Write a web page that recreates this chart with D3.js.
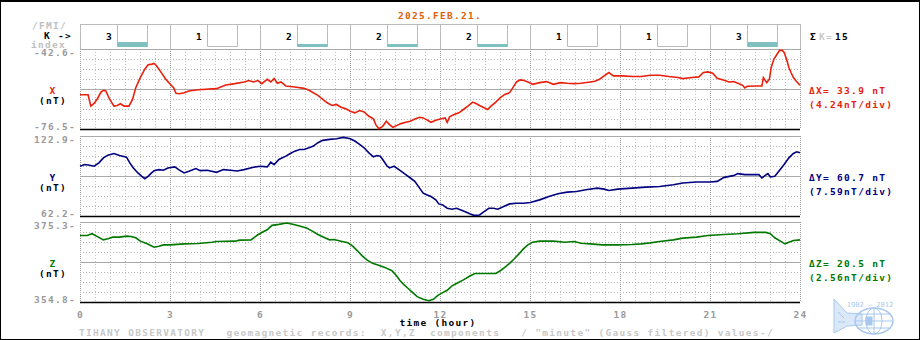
<!DOCTYPE html>
<html><head><meta charset="utf-8">
<script src="https://cdn.jsdelivr.net/npm/d3@7"></script>
<style>
body{margin:0;background:#fff}
svg{display:block;font-family:"DejaVu Sans Mono",monospace;font-weight:bold}
svg text{letter-spacing:1.3px}
</style>
</head><body>
<svg id="c" width="920" height="340"></svg>
<script>
// ---- data ----
const dateLabel = "2025.FEB.21.";
const kIndex = [3,1,2,2,2,1,1,3];
const hourTicks = [0,3,6,9,12,15,18,21,24];

const hoursX = [0,0.27,0.36,0.47,0.58,0.70,0.78,0.86,0.98,1.13,1.24,1.35,1.47,1.63,1.75,1.86,2.01,2.16,2.27,2.40,2.47,2.55,2.67,2.86,3.01,3.12,3.20,3.32,3.47,3.63,3.93,4.55,4.86,5.16,5.47,5.63,5.78,5.93,6.06,6.24,6.36,6.47,6.58,6.70,6.86,7.16,7.47,7.63,7.93,8.24,8.40,8.55,8.70,8.86,9.01,9.16,9.32,9.47,9.63,9.78,9.86,9.96,10.09,10.21,10.32,10.43,10.55,10.70,10.86,11.01,11.16,11.32,11.44,11.55,11.70,11.86,12.01,12.17,12.24,12.32,12.47,12.63,12.78,12.93,13.09,13.20,13.32,13.47,13.59,13.70,13.86,14.01,14.16,14.32,14.43,14.55,14.67,14.78,14.93,15.09,15.32,15.55,15.78,16.01,16.24,16.47,16.70,17.01,17.16,17.32,17.47,17.63,17.78,18.09,18.40,18.70,19.01,19.32,19.63,19.94,20.09,20.40,20.63,20.78,20.93,21.09,21.24,21.47,21.63,21.78,21.93,22.09,22.16,22.24,22.55,22.73,22.78,22.89,22.98,23.04,23.13,23.24,23.32,23.41,23.47,23.55,23.63,23.70,23.78,23.87,24];
const valuesX = [-61.97,-61.97,-66.81,-65.68,-63.68,-60.83,-60.12,-60.41,-63.68,-66.81,-66.53,-65.82,-66.81,-66.81,-63.97,-58.98,-54.71,-51.15,-49.29,-49.01,-48.72,-49.72,-51.86,-55.42,-57.56,-58.98,-61.40,-61.54,-61.12,-60.41,-59.84,-59.41,-57.84,-57.27,-56.56,-55.99,-56.56,-55.99,-57.27,-55.42,-56.56,-55.13,-57.13,-56.56,-58.27,-58.70,-59.27,-60.12,-62.26,-65.39,-66.53,-66.10,-67.24,-67.95,-68.95,-69.66,-68.67,-69.24,-71.09,-72.23,-74.65,-76.36,-75.36,-73.22,-74.65,-75.79,-75.08,-74.22,-73.65,-73.22,-72.23,-71.52,-71.80,-72.51,-73.65,-72.80,-72.23,-71.80,-73.65,-71.37,-70.38,-69.66,-68.24,-66.81,-65.11,-65.68,-66.53,-67.53,-68.24,-66.81,-65.11,-63.25,-61.83,-61.12,-58.98,-56.56,-55.70,-55.85,-56.56,-57.56,-56.84,-56.42,-57.56,-56.84,-57.13,-57.27,-57.13,-56.56,-56.27,-55.42,-54.00,-52.57,-54.00,-54.00,-54.28,-54.28,-53.71,-53.71,-54.28,-54.71,-55.13,-54.71,-54.42,-52.57,-52.29,-52.86,-54.99,-55.85,-56.56,-56.42,-57.13,-57.98,-59.12,-58.41,-58.27,-58.27,-54.71,-56.84,-55.42,-50.43,-46.87,-44.74,-43.17,-43.17,-44.02,-46.87,-50.43,-52.57,-54.71,-56.13,-57.98];

const hoursY = [0,0.16,0.32,0.47,0.63,0.78,0.93,1.13,1.32,1.55,1.66,1.78,1.93,2.06,2.16,2.27,2.36,2.47,2.63,2.78,2.93,3.16,3.29,3.47,3.63,3.86,4.01,4.24,4.55,4.78,5.01,5.24,5.47,5.78,6.01,6.24,6.36,6.47,6.63,6.86,7.01,7.16,7.32,7.47,7.63,7.78,7.93,8.09,8.32,8.55,8.78,9.01,9.16,9.32,9.47,9.63,9.78,9.90,10.01,10.09,10.24,10.32,10.47,10.63,10.86,11.01,11.16,11.32,11.44,11.55,11.70,11.86,11.96,12.09,12.24,12.40,12.55,12.70,12.86,13.01,13.13,13.32,13.47,13.63,13.78,13.93,14.16,14.32,14.55,14.78,15.01,15.32,15.63,15.93,16.24,16.55,16.86,17.24,17.47,17.63,17.93,18.40,18.86,19.32,19.78,20.09,20.55,21.01,21.24,21.47,21.78,21.93,22.16,22.40,22.63,22.73,22.83,22.93,23.01,23.16,23.32,23.47,23.63,23.78,23.89,24];
const valuesY = [99.95,101.22,100.71,99.95,102.50,106.32,108.36,109.64,108.11,106.83,102.50,98.67,94.85,92.30,90.51,92.30,94.34,96.63,97.40,96.89,98.67,99.44,97.40,94.85,96.12,98.16,96.63,96.89,95.36,97.40,96.89,96.38,97.40,99.18,99.95,99.44,103.01,101.22,105.05,107.60,109.64,111.42,112.70,112.70,113.97,115.25,117.80,119.58,120.35,120.86,121.88,120.86,119.07,116.52,113.97,110.15,107.09,108.11,107.60,105.05,99.95,98.67,99.95,97.40,93.57,91.02,88.47,83.37,79.54,78.27,76.99,74.44,71.38,70.62,68.07,67.30,68.07,66.79,65.26,63.73,62.71,62.97,65.52,68.07,68.07,67.30,69.85,71.38,71.89,71.89,72.40,74.44,76.99,79.03,80.31,80.82,82.09,83.37,82.60,81.58,82.60,83.37,84.13,84.64,85.92,87.19,87.96,87.96,88.47,91.53,92.81,94.34,93.57,93.57,93.57,91.02,92.81,94.34,91.79,92.30,96.89,101.22,106.32,109.64,110.91,110.15];

const hoursZ = [0,0.24,0.40,0.55,0.78,0.93,1.09,1.32,1.55,1.70,1.86,2.01,2.24,2.47,2.63,2.78,3.01,3.47,3.93,4.40,4.55,5.16,5.32,5.70,5.93,6.09,6.24,6.40,6.63,6.89,7.09,7.32,7.55,7.70,7.93,8.16,8.32,8.47,8.70,8.93,9.09,9.24,9.40,9.55,9.75,9.93,10.16,10.40,10.55,10.67,10.78,10.93,11.09,11.24,11.44,11.63,11.78,11.93,12.09,12.24,12.40,12.55,12.78,13.01,13.17,13.47,13.86,14.01,14.16,14.32,14.47,14.63,14.78,14.93,15.09,15.32,15.78,16.16,16.47,16.70,17.01,17.40,17.93,18.40,18.70,19.01,19.32,19.78,20.09,20.55,20.93,21.47,21.93,22.47,22.86,23.01,23.16,23.40,23.50,23.63,23.78,24];
const valuesZ = [371.85,371.85,372.29,371.68,370.73,370.99,371.42,371.42,371.68,371.60,371.25,370.39,369.70,368.84,369.10,369.44,369.44,369.70,369.79,370.13,370.30,370.39,370.65,370.73,372.03,372.72,373.32,374.44,374.70,375.04,374.70,374.27,373.75,373.15,372.11,371.25,370.73,370.82,370.39,369.96,369.10,367.98,366.69,365.65,364.71,364.27,363.67,362.81,361.52,360.23,359.37,358.33,357.21,356.18,355.49,355.14,355.49,356.52,357.21,357.81,358.93,359.54,360.48,361.52,362.12,362.12,362.12,362.81,363.67,364.71,365.83,367.12,368.41,369.44,370.13,370.39,370.39,370.13,370.30,369.87,369.70,369.44,369.44,369.53,369.70,369.96,370.30,370.73,371.17,371.42,371.85,372.11,372.29,372.63,372.63,372.29,371.25,370.13,369.70,370.13,370.56,370.73];

const compNames = ["X","Y","Z"];
const compTop = [-42.6, 122.9, 375.3];
const compBottom = [-76.5, 62.2, 354.8];
const compDelta = ["33.9","60.7","20.5"];
const compPerDiv = ["4.24","7.59","2.56"];

// ---- layout ----
const svg = d3.select("#c");
const W = 920, H = 340, FS = 9.5;
const x = d3.scaleLinear().domain([0,24]).range([80,800]);
const colors = ["#e8200c","#000080","#007800"];
const panelTops = [49,136,222];
const panelH = 80;
const series = [[hoursX,valuesX],[hoursY,valuesY],[hoursZ,valuesZ]];

function txt(xp, yp, s, fill, anchor){
  return svg.append("text").attr("x",xp).attr("y",yp).attr("text-anchor",anchor||"start")
    .attr("dominant-baseline","central").attr("font-size",FS).attr("fill",fill).attr("xml:space","preserve").text(s);
}

// border
svg.append("rect").attr("x",0.5).attr("y",0.5).attr("width",W-1).attr("height",H-1)
  .attr("fill","none").attr("stroke","#000").attr("stroke-width",1);
svg.append("line").attr("x1",0).attr("x2",W).attr("y1",1).attr("y2",1).attr("stroke","#000").attr("stroke-width",2);

// title
txt(440, 15, dateLabel, "#e0600c", "middle");

// K index row
const kTop = 24, kBot = 49;
const kg = svg.append("g");
kg.append("line").attr("x1",80).attr("x2",800).attr("y1",kTop+0.5).attr("y2",kTop+0.5).attr("stroke","#bbb");
hourTicks.forEach(h=>{
  kg.append("line").attr("x1",Math.round(x(h))+0.5).attr("x2",Math.round(x(h))+0.5)
    .attr("y1",kTop).attr("y2",kBot).attr("stroke","#bbb");
});
kIndex.forEach((k,i)=>{
  const s = x(i*3);
  txt(s+26, 36, String(k), "#000");
  const bx0 = s+37.5, bx1 = s+67.5;
  kg.append("path").attr("d",`M${bx0},${kTop}V46.5H${bx1}V${kTop}`).attr("fill","none").attr("stroke","#bbb");
  if(k>=2){
    const hh = k===3?5:3;
    kg.append("rect").attr("x",bx0).attr("y",47-hh).attr("width",bx1-bx0).attr("height",hh).attr("fill","#80c0c0");
  }
});
// sigma K
txt(810, 36, "Σ", "#000");
txt(819, 36, "K=", "#c8c8c8");
txt(835, 36, String(d3.sum(kIndex)), "#000");

// left header labels
txt(32, 25.5, "/FMI/", "#c0c0c0");
txt(44, 35, "K ->", "#000");
txt(31, 44, "index", "#c0c0c0");

// panels
compNames.forEach((name,i)=>{
  const top = panelTops[i], bot = top+panelH;
  const y = d3.scaleLinear().domain([compBottom[i],compTop[i]]).range([bot,top]);
  const g = svg.append("g");
  d3.range(0,24.01,0.5).forEach(h=>{
    const major = (h%3===0);
    const xx = Math.round(x(h))+0.5;
    g.append("line").attr("x1",xx).attr("x2",xx).attr("y1",top).attr("y2",bot)
      .attr("stroke",major?"#999":"#c4c4c4").attr("stroke-dasharray",major?"1,1":"1,2");
  });
  d3.range(0,9).forEach(j=>{
    const yy = Math.round(top + j*panelH/8)+0.5;
    const l = g.append("line").attr("x1",80).attr("x2",800).attr("y1",yy).attr("y2",yy);
    if(j===8) l.attr("stroke","#000").attr("stroke-width",1.5);
    else if(j===0||j===4) l.attr("stroke","#aaa").attr("stroke-width",1.2);
    else l.attr("stroke","#b4b4b4").attr("stroke-dasharray","1,2");
  });
  const [hs,vs] = series[i];
  const pts = hs.map((h,k)=>[h,vs[k]]);
  g.append("path").datum(pts)
    .attr("d",d3.line().x(d=>x(d[0])).y(d=>y(d[1])))
    .attr("fill","none").attr("stroke",colors[i]).attr("stroke-width",1.6);
  const fmt = v => v.toFixed(1)+"-";
  txt(76, top+3.5, fmt(compTop[i]), "#999", "end");
  txt(76, bot-2.5, fmt(compBottom[i]), "#999", "end");
  const mid = top+panelH/2;
  txt(53, mid+1, name, colors[i], "middle");
  txt(53, mid+11, "(nT)", "#000", "middle");
  txt(809, mid+1, "Δ"+name+"= "+compDelta[i]+" nT", colors[i]);
  txt(809, mid+15, "("+compPerDiv[i]+"nT/div)", colors[i]);
});

// x axis labels
const ax = svg.append("g").attr("transform","translate(0,308)")
  .call(d3.axisBottom(x).tickValues(hourTicks).tickSize(0).tickFormat(d3.format("d")));
ax.select(".domain").remove();
ax.selectAll("text").attr("font-family","DejaVu Sans Mono, monospace").attr("font-weight","bold")
  .attr("font-size",FS).attr("fill","#999").attr("dy","0").attr("y",6).attr("dominant-baseline","central");
txt(438, 322.5, "time (hour)", "#000", "middle");

// footer
txt(79, 332.5, 'TIHANY OBSERVATORY   geomagnetic records:  X,Y,Z  components   / "minute" (Gauss filtered) values-/', "#c8c8c8");

// logo
const lc = "#a8c8ee";
const lg = svg.append("g").attr("stroke",lc).attr("fill","none");
lg.append("text").attr("x",870).attr("y",305).attr("text-anchor","middle").attr("dominant-baseline","central")
  .attr("font-size",7).attr("fill",lc).attr("stroke","none").attr("font-weight","normal").style("letter-spacing","0").text("1902 — 2012");
lg.append("path").attr("d","M834,299L847,313L862,314L862,325L847,326L834,333Z").attr("fill","#dbe8f8");
lg.append("path").attr("d","M838,312L844,318M838,322L845,322");
lg.append("ellipse").attr("cx",874).attr("cy",321).attr("rx",19).attr("ry",13).attr("stroke-width",1.5);
lg.append("ellipse").attr("cx",874).attr("cy",321).attr("rx",8).attr("ry",13);
lg.append("path").attr("d","M855,321H893M857,314H891M857,328H891M874,308V334");
lg.append("rect").attr("x",866).attr("y",317).attr("width",6).attr("height",8).attr("fill",lc);
</script>
</body></html>
